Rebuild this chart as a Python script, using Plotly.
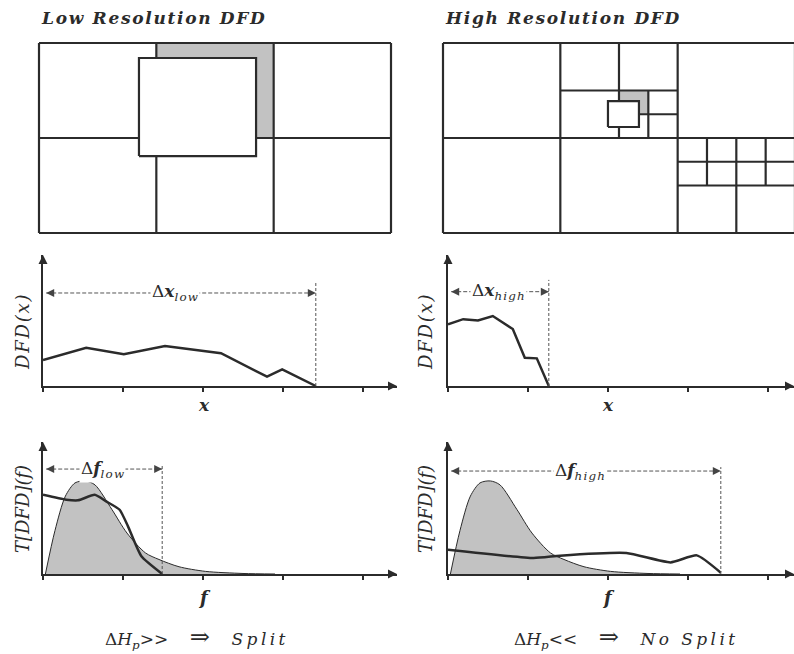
import plotly.graph_objects as go

W, H = 794, 654
INK = "#2b2b2b"
SHADE = "#c2c2c2"
FONT = "DejaVu Serif"

# ---------------- data ----------------
# Quadtree partitions of the frame, in cell units (3 columns x 2 rows).
# Each edge is (x0, y0, x1, y1).
low_res_edges = [
    (0, 0, 3, 0), (0, 2, 3, 2), (0, 0, 0, 2), (3, 0, 3, 2),
    (1, 0, 1, 2), (2, 0, 2, 2), (0, 1, 3, 1),
]
low_res_shaded = (1, 2, 1, 2)            # x0, x1, y0, y1
low_res_block = (0.852, 1.85, 0.81, 1.842)

high_res_edges = [
    (0, 0, 3, 0), (0, 2, 3, 2), (0, 0, 0, 2), (3, 0, 3, 2),
    (1, 0, 1, 2), (2, 0, 2, 2), (0, 1, 3, 1),
    (1.5, 1, 1.5, 2), (1, 1.5, 2, 1.5),
    (1.75, 1, 1.75, 1.5), (1.5, 1.25, 2, 1.25),
    (2.5, 0, 2.5, 1), (2, 0.5, 3, 0.5),
    (2.25, 0.5, 2.25, 1), (2.75, 0.5, 2.75, 1), (2, 0.75, 3, 0.75),
]
high_res_shaded = (1.5, 1.75, 1.25, 1.5)
high_res_block = (1.406, 1.67, 1.116, 1.389)

tick_pos = [0, 1, 2, 3, 4]

# displaced frame difference along x
dfd_low_x = [0, 0.54, 1.01, 1.525, 2.225, 2.8, 2.99, 3.41]
dfd_low_y = [0.198, 0.292, 0.242, 0.305, 0.25, 0.071, 0.127, 0.0]
dfd_high_x = [0, 0.19, 0.375, 0.56, 0.81, 0.96, 1.11, 1.26]
dfd_high_y = [0.47, 0.51, 0.50, 0.534, 0.435, 0.216, 0.211, 0.0]

# reference spectrum (shaded)
spec_f = [0.03, 0.15, 0.28, 0.40, 0.53, 0.65, 0.86, 1.05, 1.28, 1.45, 1.7, 2.03, 2.5, 2.9]
spec_y = [0.0, 0.33, 0.59, 0.69, 0.705, 0.675, 0.49, 0.31, 0.16, 0.11, 0.055, 0.02, 0.004, 0.0]

# transform of the DFD
tdfd_low_f = [0, 0.29, 0.4375, 0.646, 0.79, 0.958, 1.0625, 1.23, 1.49]
tdfd_low_y = [0.60, 0.563, 0.558, 0.60, 0.55, 0.487, 0.361, 0.134, 0.0]
tdfd_high_f = [0, 1.07, 1.4, 2.23, 2.78, 3.11, 3.41]
tdfd_high_y = [0.184, 0.121, 0.139, 0.159, 0.088, 0.141, 0.01]

# extents marked with double arrows: (start, end, height, label position)
dx_low = (0.04, 3.41, 0.71, 1.65)
dx_high = (0.04, 1.26, 0.72, 0.625)
df_low = (0.04, 1.49, 0.795, 0.74)
df_high = (0.04, 3.41, 0.78, 1.65)
cutoff_top = {"x3": 0.79, "x4": 0.81, "x5": 0.826, "x6": 0.81}

# ---------------- helpers ----------------
CW, RH = 117.33, 95.0   # pixels per cell unit


def xdom(p0, p1):
    return [p0 / W, p1 / W]


def ydom(top, bottom):
    return [1 - bottom / H, 1 - top / H]


def spaced(s, gap="\u200a"):
    return gap.join(s)


fig = go.Figure()


def add(tr):
    tr.update(hoverinfo="skip", showlegend=False)
    fig.add_trace(tr)


def edges_trace(edges, xa, ya):
    xs, ys = [], []
    for x0, y0, x1, y1 in edges:
        xs += [x0, x1, None]
        ys += [y0, y1, None]
    return go.Scatter(x=xs, y=ys, mode="lines", line=dict(color=INK, width=2.2),
                      xaxis=xa, yaxis=ya)


def rect_trace(r, xa, ya, fill, lw):
    x0, x1, y0, y1 = r
    return go.Scatter(x=[x0, x1, x1, x0, x0], y=[y0, y0, y1, y1, y0],
                      mode="lines", fill="toself", fillcolor=fill,
                      line=dict(color=INK if lw else fill, width=lw if lw else 0.1),
                      xaxis=xa, yaxis=ya)


# ---------------- partitions ----------------
for xa, ya, shaded, edges, block in [
    ("x", "y", low_res_shaded, low_res_edges, low_res_block),
    ("x2", "y2", high_res_shaded, high_res_edges, high_res_block),
]:
    add(rect_trace(shaded, xa, ya, SHADE, 0))
    add(edges_trace(edges, xa, ya))
    add(rect_trace(block, xa, ya, "white", 2.2))

# ---------------- curve panels ----------------
spans = {"x3": 354 / 80, "x4": 346 / 80, "x5": 354 / 80, "x6": 346 / 80}


def dim_arrow(spec, xa, ya, label):
    x0, x1, yv, xl = spec
    add(go.Scatter(x=[x0, x1], y=[yv, yv], mode="lines+markers",
                   line=dict(color="#555", width=1, dash="4px,2px"),
                   marker=dict(symbol=["arrow-left", "arrow-right"], size=8, color="#444"),
                   xaxis=xa, yaxis=ya, cliponaxis=False))
    add(go.Scatter(x=[x1, x1], y=[0, cutoff_top[xa]], mode="lines",
                   line=dict(color="#555", width=1, dash="3px,2px"),
                   xaxis=xa, yaxis=ya))
    fig.add_annotation(x=xl, y=yv, xref=xa, yref=ya, text=label, showarrow=False,
                       bgcolor="white", borderpad=1,
                       font=dict(family=FONT, size=17, color=INK))


def axis_heads(xa, ya):
    add(go.Scatter(x=[0, spans[xa]], y=[1, 0], mode="markers",
                   marker=dict(symbol=["arrow-up", "arrow-right"], size=9, color=INK),
                   xaxis=xa, yaxis=ya, cliponaxis=False))


# middle row: DFD(x)
for xa, ya, xs, ys in [("x3", "y3", dfd_low_x, dfd_low_y),
                       ("x4", "y4", dfd_high_x, dfd_high_y)]:
    add(go.Scatter(x=xs, y=ys, mode="lines", line=dict(color=INK, width=2.5),
                   xaxis=xa, yaxis=ya))

dim_arrow(dx_low, "x3", "y3", "Δ<b><i>x</i></b><sub><i>" + spaced("low") + "</i></sub>")
dim_arrow(dx_high, "x4", "y4", "Δ<b><i>x</i></b><sub><i>" + spaced("high") + "</i></sub>")

# bottom row: T[DFD](f)
for xa, ya, fs, ys in [("x5", "y5", tdfd_low_f, tdfd_low_y),
                       ("x6", "y6", tdfd_high_f, tdfd_high_y)]:
    add(go.Scatter(x=spec_f, y=spec_y, mode="lines", fill="tozeroy", fillcolor=SHADE,
                   line=dict(color=INK, width=1, shape="spline", smoothing=0.8),
                   xaxis=xa, yaxis=ya))
    add(go.Scatter(x=fs, y=ys, mode="lines",
                   line=dict(color=INK, width=2.5, shape="spline", smoothing=0.5),
                   xaxis=xa, yaxis=ya))

dim_arrow(df_low, "x5", "y5", "Δ<b><i>f</i></b><sub><i>" + spaced("low") + "</i></sub>")
dim_arrow(df_high, "x6", "y6", "Δ<b><i>f</i></b><sub><i>" + spaced("high") + "</i></sub>")

for xa, ya in [("x3", "y3"), ("x4", "y4"), ("x5", "y5"), ("x6", "y6")]:
    axis_heads(xa, ya)


# ---------------- layout ----------------
def chart_x(dom, span, anchor):
    return dict(domain=dom, range=[0, span], anchor=anchor, showline=True,
                linecolor=INK, linewidth=2, ticks="outside", ticklen=4,
                tickwidth=1.5, tickcolor=INK, tickvals=tick_pos,
                showticklabels=False, showgrid=False, zeroline=False, fixedrange=True)


def chart_y(dom, anchor):
    return dict(domain=dom, range=[0, 1], anchor=anchor, showline=True,
                linecolor=INK, linewidth=2, ticks="", showticklabels=False,
                showgrid=False, zeroline=False, fixedrange=True)


grid_y = dict(domain=ydom(40, 236), range=[-3 / RH, 2 + 3 / RH], visible=False, fixedrange=True)

fig.update_layout(
    width=W, height=H, margin=dict(l=0, r=0, t=0, b=0),
    paper_bgcolor="white", plot_bgcolor="white",
    xaxis=dict(domain=xdom(36, 394), range=[-3 / CW, 3 + 3 / CW], visible=False,
               anchor="y", fixedrange=True),
    yaxis=dict(grid_y, anchor="x"),
    xaxis2=dict(domain=xdom(440, 794), range=[-3 / CW, (794 - 443) / CW], visible=False,
                anchor="y2", fixedrange=True),
    yaxis2=dict(grid_y, anchor="x2"),
    xaxis3=chart_x(xdom(43, 397), spans["x3"], "y3"),
    yaxis3=chart_y(ydom(255, 386), "x3"),
    xaxis4=chart_x(xdom(448, 794), spans["x4"], "y4"),
    yaxis4=chart_y(ydom(255, 386), "x4"),
    xaxis5=chart_x(xdom(43, 397), spans["x5"], "y5"),
    yaxis5=chart_y(ydom(442, 574), "x5"),
    xaxis6=chart_x(xdom(448, 794), spans["x6"], "y6"),
    yaxis6=chart_y(ydom(442, 574), "x6"),
    showlegend=False,
)


def text_at(px, py, text, size, xanchor="center", angle=0):
    fig.add_annotation(x=px / W, y=1 - py / H, xref="paper", yref="paper",
                       text=text, showarrow=False, xanchor=xanchor, yanchor="middle",
                       textangle=angle, font=dict(family=FONT, size=size, color=INK))


# panel titles
text_at(39, 18, "<b><i>" + spaced("Low Resolution DFD") + "</i></b>", 17, "left")
text_at(443, 18, "<b><i>" + spaced("High Resolution DFD") + "</i></b>", 17, "left")

# axis names
for px in (22, 425):
    text_at(px, 332, "<i>" + spaced("DFD(x)") + "</i>", 18, angle=-90)
    text_at(px, 509, "<i>T[DFD](f)</i>", 18, angle=-90)
for px in (204, 608):
    text_at(px, 405, "<b><i>x</i></b>", 17)
    text_at(px, 597, "<b><i>f</i></b>", 18)

# split decisions
arrow = "<span style='font-size:24px'>⇒</span>"
gap = "\u00a0" * 4
text_at(195, 637, "Δ<i>H</i><sub><i>p</i></sub>&gt;&gt;" + gap + arrow + gap + "<i>"
        + spaced("Split", "\u2009") + "</i>", 17)
text_at(624, 637, "Δ<i>H</i><sub><i>p</i></sub>&lt;&lt;" + gap + arrow + gap + "<i>"
        + spaced("No Split", "\u2009") + "</i>", 17)

fig.write_html("out.html")
